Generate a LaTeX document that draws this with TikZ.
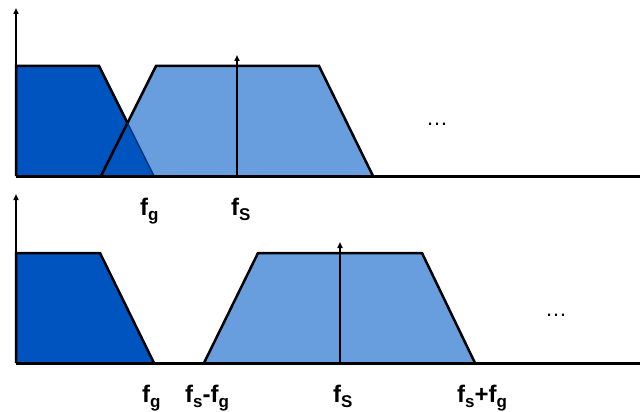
\documentclass[tikz,border=0pt]{standalone}
\usepackage{fontspec}
\setmainfont{Liberation Sans}
\usetikzlibrary{arrows.meta}
\definecolor{darkband}{RGB}{0,84,192}
\definecolor{lightband}{RGB}{104,158,221}
\definecolor{edgeblue}{RGB}{0,50,120}
\newcommand{\lbsub}[1]{\raisebox{-0.45ex}{\fontsize{17}{17}\selectfont\bfseries #1}}
\tikzset{
  axisline/.style={line width=2pt,-{Triangle[length=6pt,width=5pt]}},
  baseline/.style={line width=3pt},
  bandedge/.style={line width=2.5pt,line join=miter},
  carrier/.style={line width=2pt,-{Triangle[length=6pt,width=5pt]}},
  flabel/.style={anchor=base west,inner sep=0pt,font=\fontsize{24}{24}\selectfont\bfseries},
  dotslabel/.style={anchor=base,inner sep=0pt,font=\fontsize{22}{22}\selectfont}
}
\begin{document}
\begin{tikzpicture}[x=1pt,y=-1pt]
\useasboundingbox (0,0) rectangle (640,412);
% ---------- top panel ----------
\coordinate (tO) at (16,176);
\coordinate (tTop) at (16,8);
\coordinate (tEnd) at (640,176);
\coordinate (ta1) at (16,66); \coordinate (ta2) at (99,66); \coordinate (ta3) at (154,176);
\coordinate (tb0) at (101,176); \coordinate (tb1) at (156,66); \coordinate (tb2) at (319,66); \coordinate (tb3) at (373,176);
\coordinate (tX) at (127.5,123);
\coordinate (tcB) at (237,176); \coordinate (tcT) at (237,55);
\fill[lightband] (tb0) -- (tb1) -- (tb2) -- (tb3) -- cycle;
\fill[darkband] (tO) -- (ta1) -- (ta2) -- (ta3) -- cycle;
\draw[bandedge] (tb0) -- (tb1) -- (tb2) -- (tb3);
\draw[bandedge] (tO) -- (ta1) -- (ta2) -- (tX);
\draw[line width=1.5pt,edgeblue] (tX) -- (ta3);
\draw[carrier] (tcB) -- (tcT);
\draw[axisline] (tO) -- (tTop);
\draw[baseline] (tO) -- (tEnd);
\node[flabel] (tfg) at (140,215) {f\lbsub{g}};
\node[flabel] (tfs) at (231,215) {f\lbsub{S}};
\node[dotslabel] (tdots) at (437,125) {\ldots};
% ---------- bottom panel ----------
\coordinate (bO) at (16,363);
\coordinate (bTop) at (16,194);
\coordinate (bEnd) at (640,363);
\coordinate (ba1) at (16,253); \coordinate (ba2) at (100,253); \coordinate (ba3) at (154,363);
\coordinate (bb0) at (204,363); \coordinate (bb1) at (258,253); \coordinate (bb2) at (422,253); \coordinate (bb3) at (475,363);
\coordinate (bcB) at (340,363); \coordinate (bcT) at (340,242);
\fill[lightband] (bb0) -- (bb1) -- (bb2) -- (bb3) -- cycle;
\fill[darkband] (bO) -- (ba1) -- (ba2) -- (ba3) -- cycle;
\draw[bandedge] (bb0) -- (bb1) -- (bb2) -- (bb3);
\draw[bandedge] (bO) -- (ba1) -- (ba2) -- (ba3);
\draw[carrier] (bcB) -- (bcT);
\draw[axisline] (bO) -- (bTop);
\draw[baseline] (bO) -- (bEnd);
\node[flabel] (bfg) at (142,402) {f\lbsub{g}};
\node[flabel] (bfsg) at (185,402) {f\lbsub{s}-f\lbsub{g}};
\node[flabel] (bfs) at (333,402) {f\lbsub{S}};
\node[flabel] (bfsp) at (457,402) {f\lbsub{s}+f\lbsub{g}};
\node[dotslabel] (bdots) at (556,316) {\ldots};
\end{tikzpicture}
\end{document}
